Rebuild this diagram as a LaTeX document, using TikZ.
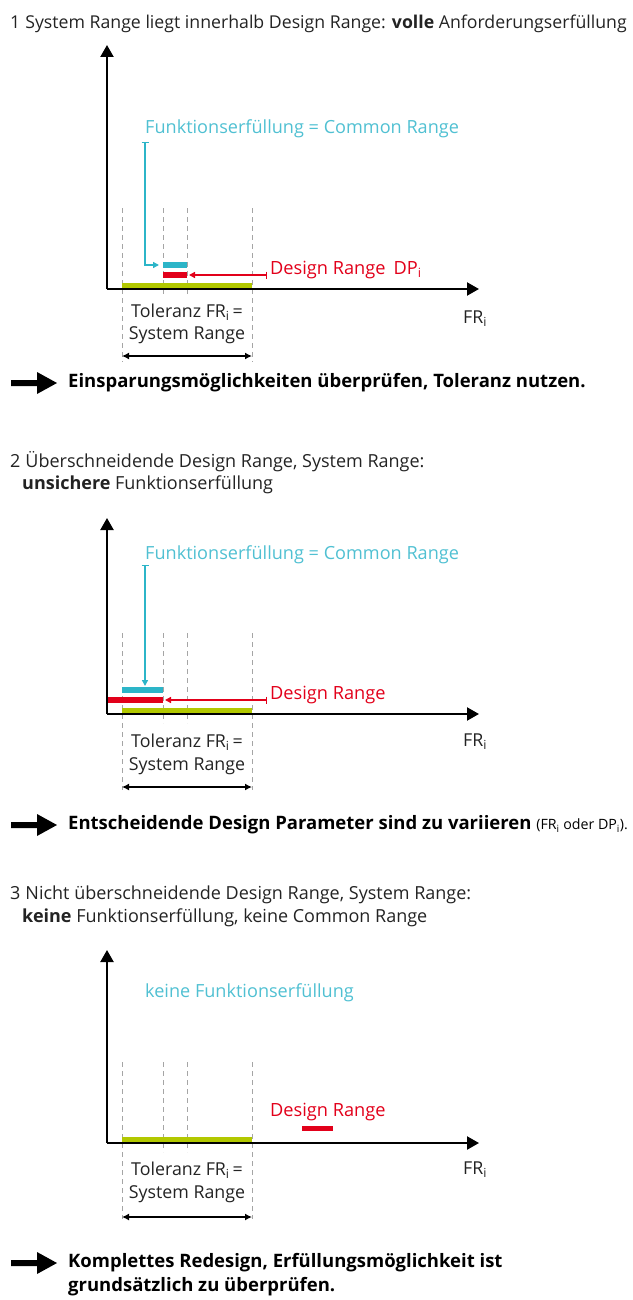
\documentclass[tikz,border=0pt]{standalone}
\usepackage{fontspec}
\setmainfont{Open Sans}
\usetikzlibrary{arrows.meta}
\definecolor{cyanline}{RGB}{44,181,200}
\definecolor{cyantext}{RGB}{80,192,210}
\definecolor{redline}{RGB}{226,0,26}
\definecolor{limebar}{RGB}{178,200,0}
\definecolor{dashgray}{RGB}{165,165,165}
\definecolor{textgray}{RGB}{35,35,35}
\newcommand{\sub}[1]{\textsubscript{#1}}
\tikzset{
  txt/.style={inner sep=0pt, text=textgray, font=\fontsize{17.8}{21}\selectfont},
  ttl/.style={txt, anchor=west, font=\fontsize{18}{21}\selectfont},
  concl/.style={txt, anchor=west, text=black, font=\fontsize{18.5}{24}\selectfont\bfseries, align=left},
  cyanlbl/.style={txt, anchor=west, text=cyantext, font=\fontsize{18.1}{21}\selectfont},
  redlbl/.style={txt, anchor=west, text=redline, font=\fontsize{18.2}{21}\selectfont},
  axis/.style={line width=2.2pt, -{Triangle[width=13pt,length=12pt]}},
  guide/.style={draw=dashgray, line width=1pt, dash pattern=on 5pt off 4pt},
  limefill/.style={fill=limebar},
  redfill/.style={fill=redline},
  cyanfill/.style={fill=cyanline},
  redptr/.style={draw=redline, line width=1.4pt, {Bar[width=7pt]}-{Triangle[width=6pt,length=6pt]}},
  cyanptr/.style={draw=cyanline, line width=1.4pt, {Bar[width=7pt]}-{Triangle[width=6pt,length=6pt]}},
  span/.style={line width=1.8pt, {Latex[width=7pt,length=7pt]}-{Latex[width=7pt,length=7pt]}},
  bigarrow/.style={fill=black}
}
\begin{document}
\begin{tikzpicture}[x=1pt,y=-1pt]
\useasboundingbox (0,0) rectangle (632,1300);

% ---------------- Case 1 ----------------
\node[ttl, font=\fontsize{17.7}{21}\selectfont] (t1) at (10,24) {1\hspace{5pt}System Range liegt innerhalb Design Range: \textbf{volle} Anforderungserfüllung};
\begin{scope}[shift={(0,289)}]
  \coordinate (o1) at (107,0);
  \coordinate (ytip1) at (107,-244);
  \coordinate (xtip1) at (479,0);
  \foreach \gx in {122,252} \draw[guide] (\gx,-81) -- (\gx,73);
  \foreach \gx in {163,187} \draw[guide] (\gx,-81) -- (\gx,8);
  \fill[limefill] (122,-6.5) rectangle (252,-1);
  \fill[cyanfill] (163,-27) rectangle (187,-21);
  \fill[redfill] (163,-17) rectangle (187,-11);
  \draw[axis] (o1) -- (ytip1);
  \draw[axis] (o1) -- (xtip1);
  \node[cyanlbl] (fe1) at (145,-160) {Funktionserfüllung = Common Range};
  \coordinate (fetop1) at (145,-147);
  \coordinate (cb1) at (159,-24);
  \draw[cyanptr] (fetop1) |- (cb1);
  \node[redlbl] (dr1) at (270,-19) {Design Range\hspace{8pt}DP\sub{i}};
  \coordinate (drs1) at (267,-14);
  \coordinate (drb1) at (189,-14);
  \draw[redptr] (drs1) -- (drb1);
  \node[txt] (tol1) at (187,23) {Toleranz FR\sub{i}\,=};
  \node[txt] (sr1) at (187,46) {System Range};
  \coordinate (sl1) at (122,67);
  \coordinate (sr1e) at (252,67);
  \draw[span] (sl1) -- (sr1e);
  \node[txt] (fr1) at (475,30) {FR\sub{i}};
\end{scope}
\fill[bigarrow] (11,380) -- (37,380) -- (37,372) -- (57,383) -- (37,394) -- (37,386) -- (11,386) -- cycle;
\node[concl] (c1) at (68,383) {Einsparungsmöglichkeiten überprüfen, Toleranz nutzen.};

% ---------------- Case 2 ----------------
\node[ttl] (t2a) at (10,462) {2\hspace{5pt}Überschneidende Design Range, System Range:};
\node[ttl] (t2b) at (22,485) {\textbf{unsichere} Funktionserfüllung};
\begin{scope}[shift={(0,714)}]
  \coordinate (o2) at (107,0);
  \coordinate (ytip2) at (107,-196);
  \coordinate (xtip2) at (479,0);
  \foreach \gx in {122,252} \draw[guide] (\gx,-81) -- (\gx,76);
  \foreach \gx in {163,187} \draw[guide] (\gx,-81) -- (\gx,9);
  \fill[limefill] (122,-6.5) rectangle (252,-1);
  \fill[cyanfill] (122,-27) rectangle (163,-21);
  \fill[redfill] (107,-17) rectangle (163,-11);
  \draw[axis] (o2) -- (ytip2);
  \draw[axis] (o2) -- (xtip2);
  \node[cyanlbl] (fe2) at (145,-159) {Funktionserfüllung = Common Range};
  \coordinate (fetop2) at (145,-149);
  \coordinate (cb2) at (145,-28);
  \draw[cyanptr] (fetop2) -- (cb2);
  \node[redlbl] (dr2) at (270,-19) {Design Range};
  \coordinate (drs2) at (267,-14);
  \coordinate (drb2) at (165,-14);
  \draw[redptr] (drs2) -- (drb2);
  \node[txt] (tol2) at (187,28) {Toleranz FR\sub{i}\,=};
  \node[txt] (sr2) at (187,52) {System Range};
  \coordinate (sl2) at (122,73);
  \coordinate (sr2e) at (252,73);
  \draw[span] (sl2) -- (sr2e);
  \node[txt] (fr2) at (475,28) {FR\sub{i}};
\end{scope}
\fill[bigarrow] (11,822) -- (37,822) -- (37,814) -- (57,825) -- (37,836) -- (37,828) -- (11,828) -- cycle;
\node[concl] (c2) at (68,825) {Entscheidende Design Parameter sind zu variieren {\mdseries\fontsize{14.2}{18}\selectfont(FR\sub{i} oder DP\sub{i}).}};

% ---------------- Case 3 ----------------
\node[ttl] (t3a) at (10,895) {3\hspace{5pt}Nicht überschneidende Design Range, System Range:};
\node[ttl] (t3b) at (22,918) {\textbf{keine} Funktionserfüllung, keine Common Range};
\begin{scope}[shift={(0,1143)}]
  \coordinate (o3) at (107,0);
  \coordinate (ytip3) at (107,-193);
  \coordinate (xtip3) at (479,0);
  \foreach \gx in {122,252} \draw[guide] (\gx,-81) -- (\gx,76);
  \foreach \gx in {163,187} \draw[guide] (\gx,-81) -- (\gx,9);
  \fill[limefill] (122,-6.5) rectangle (252,-1);
  \fill[redfill] (302,-17) rectangle (333,-12);
  \draw[axis] (o3) -- (ytip3);
  \draw[axis] (o3) -- (xtip3);
  \node[cyanlbl] (fe3) at (145,-150) {keine Funktionserfüllung};
  \node[redlbl] (dr3) at (270,-31) {Design Range};
  \node[txt] (tol3) at (187,27) {Toleranz FR\sub{i}\,=};
  \node[txt] (sr3) at (187,51) {System Range};
  \coordinate (sl3) at (122,74);
  \coordinate (sr3e) at (252,74);
  \draw[span] (sl3) -- (sr3e);
  \node[txt] (fr3) at (475,27) {FR\sub{i}};
\end{scope}
\fill[bigarrow] (11,1260) -- (37,1260) -- (37,1252) -- (57,1263) -- (37,1274) -- (37,1266) -- (11,1266) -- cycle;
\node[concl, anchor=west] (c3) at (68,1275) {Komplettes Redesign, Erfüllungsmöglichkeit ist\\grundsätzlich zu überprüfen.};
\end{tikzpicture}
\end{document}
